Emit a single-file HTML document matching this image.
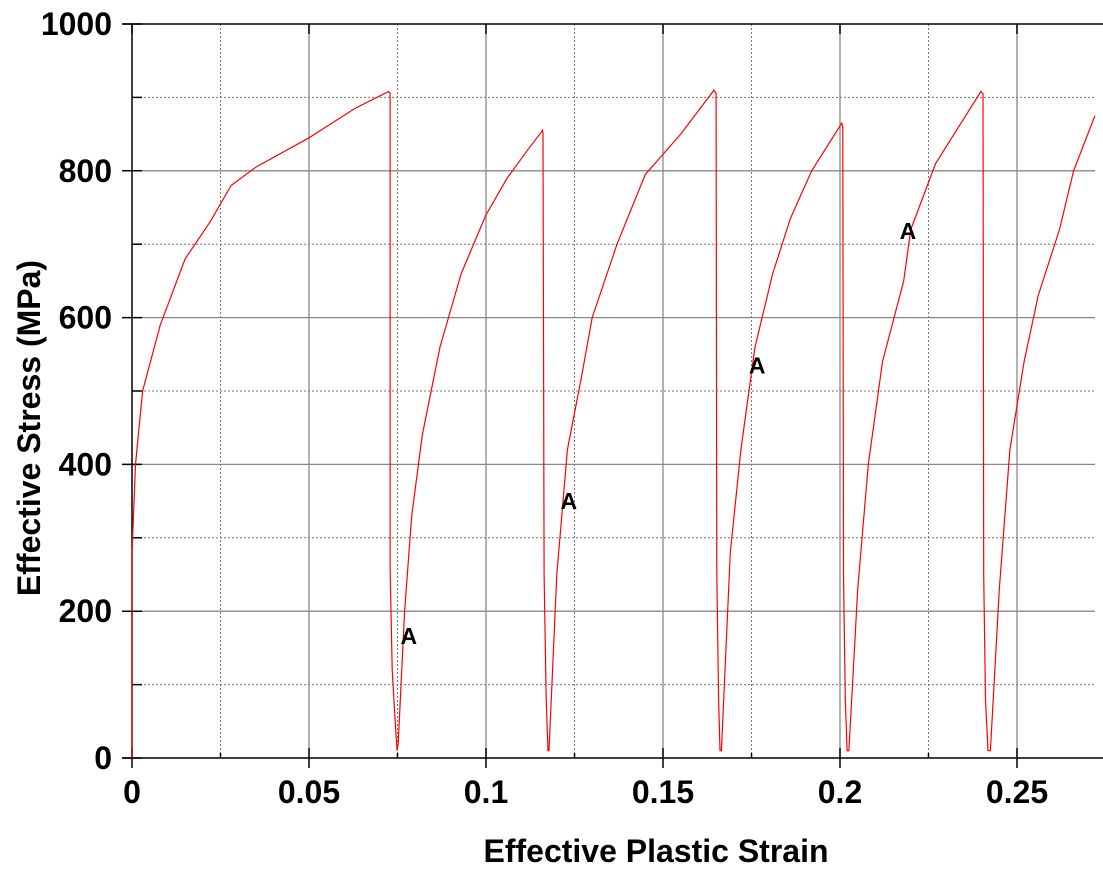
<!DOCTYPE html>
<html><head><meta charset="utf-8"><style>
body{margin:0;background:#fff;}
svg{display:block;font-family:"Liberation Sans",Arial,sans-serif;}
</style></head><body>
<svg id="chart" width="1103" height="885"></svg>
<script>
const strain=[0,0,0.001,0.003,0.008,0.015,0.022,0.028,0.035,0.05,0.063,0.0725,0.0729,0.0729,0.0735,0.0742,0.0749,0.0752,0.077,0.079,0.082,0.087,0.093,0.1,0.106,0.112,0.116,0.1161,0.1164,0.117,0.1175,0.1178,0.12,0.123,0.127,0.13,0.137,0.145,0.155,0.1644,0.165,0.1652,0.1657,0.1661,0.1665,0.169,0.172,0.176,0.181,0.186,0.192,0.2005,0.2008,0.201,0.2015,0.202,0.2025,0.205,0.208,0.212,0.218,0.22,0.227,0.2398,0.2404,0.2406,0.2411,0.2418,0.2425,0.245,0.248,0.252,0.256,0.262,0.266,0.272];
const stress=[0,280,400,500,590,680,730,780,805,845,885,908,905,260,120,60,10,20,200,330,440,560,660,740,790,830,855,850,250,80,10,10,250,420,520,600,700,795,850,910,905,250,80,10,10,280,420,560,660,735,800,865,860,250,80,10,10,230,400,540,650,720,810,908,905,250,80,10,10,230,420,540,630,720,800,875];
const xTicks=[0,0.05,0.1,0.15,0.2,0.25];
const xTickLabels=["0","0.05","0.1","0.15","0.2","0.25"];
const yTicks=[0,200,400,600,800,1000];
const yTickLabels=["0","200","400","600","800","1000"];
const labelX=[0.0782,0.1234,0.1766,0.2192];
const labelY=[166,350,535,718];
const labelText=["A","A","A","A"];

const svg=document.getElementById('chart');
const NS='http://www.w3.org/2000/svg';
const L=132,R=1095,T=24,B=758,YMAX=1000;
const sx=v=>L+v*3540;
const sy=v=>B-v/YMAX*(B-T);
function mk(tag,attrs){const e=document.createElementNS(NS,tag);for(const k in attrs)e.setAttribute(k,attrs[k]);svg.appendChild(e);return e;}
for(let i=0;i<xTicks.length;i++){const v=xTicks[i]+0.025;if(sx(v)<R){const g=mk('line',{x1:sx(v),x2:sx(v),y1:T,y2:B,stroke:'#777','stroke-width':1,'stroke-dasharray':'2,2'});
const t=mk('line',{x1:sx(v),x2:sx(v),y1:B-5,y2:B,stroke:'#000','stroke-width':1.5});}}
for(let i=0;i<yTicks.length-1;i++){const v=yTicks[i]+100;const g=mk('line',{x1:L,x2:R,y1:sy(v),y2:sy(v),stroke:'#777','stroke-width':1,'stroke-dasharray':'2,2'});
const t=mk('line',{x1:L,x2:L+10,y1:sy(v),y2:sy(v),stroke:'#000','stroke-width':1.5});}
xTicks.forEach((v,i)=>{const x=sx(v);
if(i>0){const g=mk('line',{x1:x,x2:x,y1:T,y2:B,stroke:'#888','stroke-width':1.3});}
const t=mk('line',{x1:x,x2:x,y1:B-10,y2:B+10,stroke:'#000','stroke-width':1.5});
const tt=mk('line',{x1:x,x2:x,y1:T,y2:T+10,stroke:'#000','stroke-width':1.5});
const lb=mk('text',{x:x,y:803,'text-anchor':'middle','font-size':32,'font-weight':'bold'});lb.textContent=xTickLabels[i];});
yTicks.forEach((v,i)=>{const y=sy(v);
if(i>0&&i<yTicks.length-1){const g=mk('line',{x1:L,x2:R,y1:y,y2:y,stroke:'#888','stroke-width':1.3});}
const t=mk('line',{x1:L-10,x2:L+10,y1:y,y2:y,stroke:'#000','stroke-width':1.5});
const lb=mk('text',{x:112,y:y+11,'text-anchor':'end','font-size':32,'font-weight':'bold'});lb.textContent=yTickLabels[i];});
const ax=mk('line',{x1:L,x2:L,y1:T,y2:B,stroke:'#000','stroke-width':1.5});
const bx=mk('line',{x1:122,x2:R+8,y1:B,y2:B,stroke:'#000','stroke-width':1.5});
const tx=mk('line',{x1:122,x2:R+8,y1:T,y2:T,stroke:'#000','stroke-width':1.5});
const pts=strain.map((s,i)=>sx(s).toFixed(1)+','+sy(stress[i]).toFixed(1)).join(' ');
const pl=mk('polyline',{points:pts,fill:'none',stroke:'#ff0000','stroke-width':1.2});


labelX.forEach((v,i)=>{const t=mk('text',{x:sx(v),y:sy(labelY[i])+8,'text-anchor':'middle','font-size':23,'font-weight':'bold'});t.textContent=labelText[i];

});
const xt=mk('text',{x:656,y:862,'text-anchor':'middle','font-size':32,'font-weight':'bold'});xt.textContent='Effective Plastic Strain';
const yt=mk('text',{x:0,y:0,'text-anchor':'middle','font-size':32,'font-weight':'bold',transform:'translate(40,428) rotate(-90)'});yt.textContent='Effective Stress (MPa)';
</script>
</body></html>
